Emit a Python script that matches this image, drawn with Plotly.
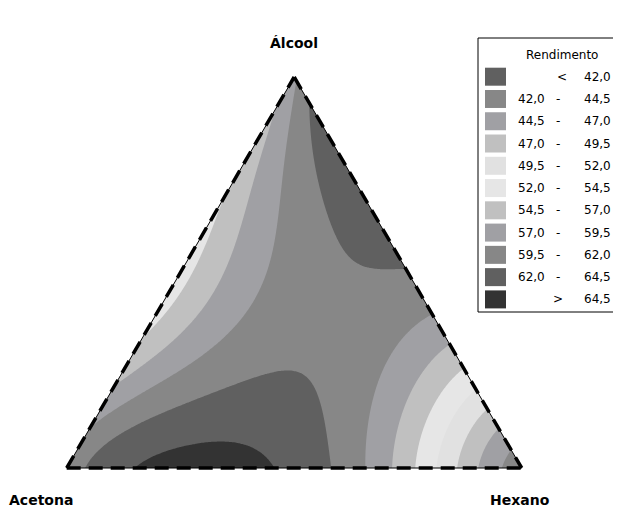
import numpy as np
import plotly.graph_objects as go

# ---------------- data ----------------
# mixture readings (fractions) and the yield read at each point
hexano = [0, 1, 0,
          0.03, 0.10, 0.172, 0.31, 0.454, 0.572, 0.654, 0.718, 0.769, 0.815, 0.86, 0.90, 0.955,
          0.962, 0.895, 0.851, 0.80, 0.749, 0.673, 0.61, 0.50, 0.28, 0.06,
          0, 0, 0, 0, 0, 0, 0, 0, 0, 0, 0,
          0.039, 0.105, 0.204, 0.303, 0.37, 0.422, 0.483,
          0.188, 0.307, 0.394, 0.30,
          0.296, 0.379, 0.436, 0.203, 0.165, 0.27,
          0.105, 0.018, 0.133, 0.157, 0.181,
          0.042, 0.078, 0.0835, 0.115, 0.02,
          0.093, 0.13, 0.054, 0.045,
          0.573, 0.648, 0.723, 0.777, 0.8325, 0.881, 0.9515,
          0.566, 0.616, 0.396, 0.333, 0.12, 0.10]
alcool = [0, 0, 1,
          0, 0, 0, 0, 0, 0, 0, 0, 0, 0, 0, 0, 0,
          0.038, 0.105, 0.149, 0.20, 0.251, 0.327, 0.39, 0.50, 0.72, 0.94,
          0.02, 0.22, 0.27, 0.33, 0.42, 0.50, 0.58, 0.67, 0.78, 0.86, 0.92,
          0.038, 0.0716, 0.165, 0.243, 0.259, 0.225, 0.148,
          0.033, 0.061, 0.041, 0.12,
          0.565, 0.473, 0.473, 0.719, 0.762, 0.67,
          0.762, 0.933, 0.685, 0.583, 0.532,
          0.762, 0.685, 0.583, 0.532, 0.50,
          0.242, 0.327, 0.157, 0.30,
          0.2135, 0.176, 0.1385, 0.111, 0.0837, 0.0594, 0.0242,
          0.276, 0.123, 0.366, 0.333, 0.20, 0.50]
rendimento = [60.8, 42.8, 59.0,
              62.0, 63.6, 64.5, 65.8, 64.5, 62.0, 59.5, 57.0, 54.5, 52.0, 49.5, 47.0, 44.5,
              44.5, 47.0, 49.5, 52.0, 54.5, 57.0, 59.5, 62.0, 63.8, 62.0,
              59.5, 57.0, 55.5, 54.4, 53.7, 53.4, 53.5, 54.4, 55.5, 56.2, 56.9,
              62.0, 62.0, 62.0, 62.0, 62.0, 62.0, 62.0,
              64.5, 64.5, 64.5, 63.5,
              62.0, 62.0, 62.0, 62.0, 62.0, 63.4,
              59.5, 59.5, 59.5, 59.5, 59.5,
              57.0, 57.0, 57.0, 57.0, 54.5,
              59.5, 59.5, 59.5, 57.0,
              59.5, 57.0, 54.5, 52.0, 49.5, 47.0, 44.5,
              59.5, 59.5, 61.7, 61.3, 60.5, 56.5]
acetona = [1 - h - l for h, l in zip(hexano, alcool)]

levels = [42.0, 44.5, 47.0, 49.5, 52.0, 54.5, 57.0, 59.5, 62.0, 64.5]
band_colors = ["#606060", "#878787", "#a0a0a4", "#c0c0c0", "#e1e1e1", "#e6e6e6",
               "#c0c0c0", "#a0a0a4", "#878787", "#606060", "#333333"]
component_names = {"top": "Álcool", "left": "Acetona", "right": "Hexano"}
legend_title = "Rendimento"

# ---------------- mixture model (Scheffé quartic + edge quintic terms) fitted to the readings ----------------
def terms(a, h, l):
    return np.stack([a, h, l, a*h, a*l, h*l,
                     a*h*(a-h), a*l*(a-l), h*l*(h-l),
                     a*h*(a-h)**2, a*l*(a-l)**2, h*l*(h-l)**2,
                     a*a*h*l, a*h*h*l, a*h*l*l,
                     a*h*(a-h)**3, a*l*(a-l)**3, h*l*(h-l)**3], axis=-1)

A = np.array(acetona); H = np.array(hexano); L = np.array(alcool); Y = np.array(rendimento)
on_edge = (np.isclose(A, 0) | np.isclose(H, 0) | np.isclose(L, 0))
wts = np.where(on_edge, 3.0, 1.0)
wts = np.where(np.isclose(H, 0) & (L > 0.1) & (L < 0.95), 6.0, wts)
coef, *_ = np.linalg.lstsq(terms(A, H, L) * wts[:, None], Y * wts, rcond=None)

# ---------------- geometry (page pixels; the page body has an 8 px margin) ----------------
OFF = 8
X0, X1, YB, YT = 66.7, 521.7, 468.0, 77.0
W = X1 - X0; HT = YB - YT
XA = (X0 + X1) / 2

xs = np.linspace(X0, X1, 320)
ys = np.linspace(YT, YB, 280)
GX, GY = np.meshgrid(xs, ys)
gl = (YB - GY) / HT
gh = (GX - X0) / W - gl / 2
ga = 1 - gh - gl
Z = terms(ga, gh, gl) @ coef

n = len(levels)
cs = [[i / n, c] for i, c in enumerate(band_colors)]

fig = go.Figure()
fig.add_trace(go.Contour(
    x=xs, y=ys, z=Z, autocontour=False,
    contours=dict(start=levels[0], end=levels[-1], size=levels[1] - levels[0],
                  coloring="fill", showlines=False),
    line=dict(width=0), colorscale=cs, showscale=False, hoverinfo="skip"))

shapes = []
shapes.append(dict(type="path", path=f"M {X0-10},{YB} L {X0},{YB} L {XA},{YT} L {XA},{YT-10} L {X0-10},{YT-10} Z",
                   fillcolor="white", line=dict(width=0), layer="above"))
shapes.append(dict(type="path", path=f"M {X1+10},{YB} L {X1},{YB} L {XA},{YT} L {XA},{YT-10} L {X1+10},{YT-10} Z",
                   fillcolor="white", line=dict(width=0), layer="above"))
shapes.append(dict(type="rect", x0=X0-10, x1=X1+10, y0=YB, y1=YB+10, fillcolor="white",
                   line=dict(width=0), layer="above"))
edges = [((X0, YB), (X1, YB)), ((X0, YB), (XA, YT)), ((XA, YT), (X1, YB))]
for (p, q) in edges:
    shapes.append(dict(type="line", x0=p[0], y0=p[1], x1=q[0], y1=q[1],
                       line=dict(color="black", width=1), layer="above"))
    shapes.append(dict(type="line", x0=p[0], y0=p[1], x1=q[0], y1=q[1],
                       line=dict(color="black", width=3.5, dash="14px,8px"), layer="above"))

# legend box
LX0, LX1, LY0, LY1 = 478, 617, 38, 312
shapes.append(dict(type="rect", x0=LX0, x1=LX1, y0=LY0, y1=LY1, line=dict(color="black", width=1),
                   fillcolor="white", layer="above"))
ann = []
font_l = dict(family="DejaVu Sans", size=12, color="black")
ann.append(dict(x=562, y=55, text=legend_title, showarrow=False, font=font_l, xanchor="center", yanchor="middle"))
fmt = lambda v: f"{v:.1f}".replace(".", ",")
for i, c in enumerate(band_colors):
    yc = 76.7 + 22.27 * i
    shapes.append(dict(type="rect", x0=485, x1=506, y0=yc - 9, y1=yc + 9, fillcolor=c,
                       line=dict(width=0), layer="above"))
    if i == 0:
        ann.append(dict(x=562, y=yc, text="<", showarrow=False, font=font_l, xanchor="center", yanchor="middle"))
        ann.append(dict(x=613, y=yc, text=fmt(levels[0]), showarrow=False, font=font_l, xanchor="right", yanchor="middle"))
    elif i == len(band_colors) - 1:
        ann.append(dict(x=558, y=yc, text=">", showarrow=False, font=font_l, xanchor="center", yanchor="middle"))
        ann.append(dict(x=613, y=yc, text=fmt(levels[-1]), showarrow=False, font=font_l, xanchor="right", yanchor="middle"))
    else:
        ann.append(dict(x=516, y=yc, text=fmt(levels[i - 1]), showarrow=False, font=font_l, xanchor="left", yanchor="middle"))
        ann.append(dict(x=558, y=yc, text="-", showarrow=False, font=font_l, xanchor="center", yanchor="middle"))
        ann.append(dict(x=613, y=yc, text=fmt(levels[i]), showarrow=False, font=font_l, xanchor="right", yanchor="middle"))

font_c = dict(family="DejaVu Sans", size=14, color="black")
ann.append(dict(x=XA, y=43, text="<b>" + component_names["top"] + "</b>", showarrow=False, font=font_c,
                xanchor="center", yanchor="middle"))
ann.append(dict(x=41, y=500, text="<b>" + component_names["left"] + "</b>", showarrow=False, font=font_c,
                xanchor="center", yanchor="middle"))
ann.append(dict(x=520, y=500, text="<b>" + component_names["right"] + "</b>", showarrow=False, font=font_c,
                xanchor="center", yanchor="middle"))

fig.update_layout(
    width=621 - OFF, height=515 - OFF, margin=dict(l=0, r=0, t=0, b=0),
    paper_bgcolor="white", plot_bgcolor="white",
    xaxis=dict(range=[OFF, 621], visible=False, fixedrange=True),
    yaxis=dict(range=[515, OFF], visible=False, fixedrange=True),
    shapes=shapes, annotations=ann, showlegend=False)
fig.write_html("out.html")
